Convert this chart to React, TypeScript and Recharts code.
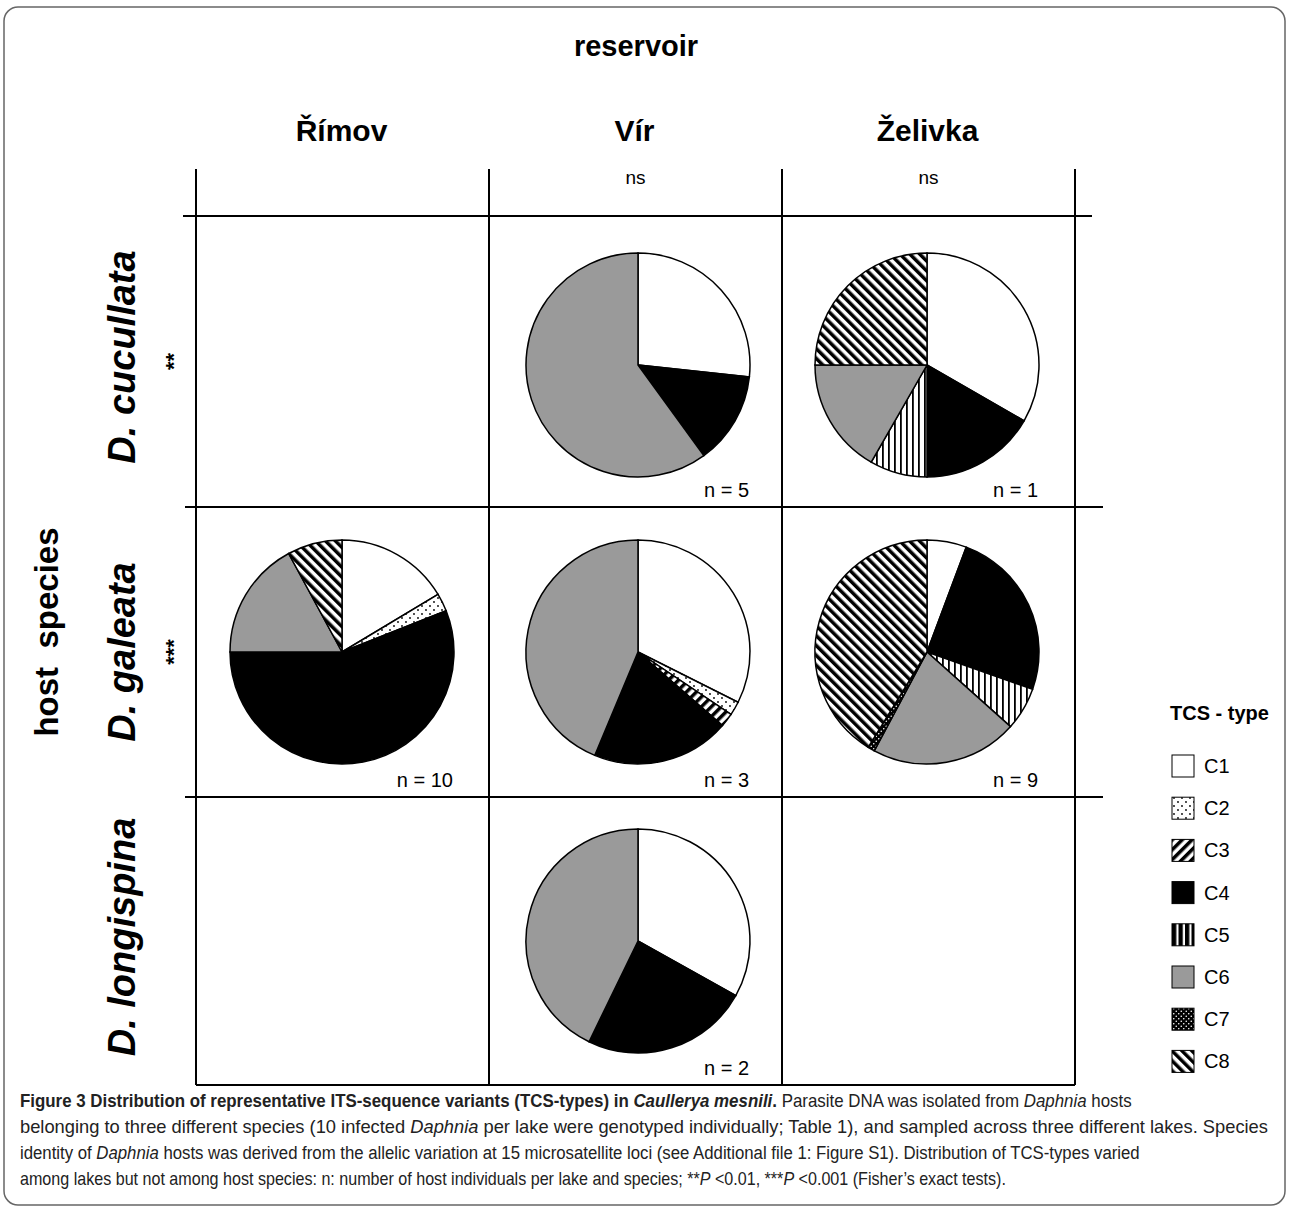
import React, { useLayoutEffect, useRef, useState } from 'react';
import { PieChart, Pie, Cell } from 'recharts';

// TCS-types and panel labels
const TYPES = ['C1', 'C2', 'C3', 'C4', 'C5', 'C6', 'C7', 'C8'];
const LAKES = ['Římov', 'Vír', 'Želivka'];
const LAKE_TESTS = ['', 'ns', 'ns'];
const HOSTS = ['D. cucullata', 'D. galeata', 'D. longispina'];
const HOST_TESTS = ['**', '***', ''];

// share of sequences (%) per TCS-type, in order C1..C8
const cucullataVir = [26.7, 0, 0, 13.3, 0, 60, 0, 0];
const cucullataZelivka = [33.3, 0, 0, 16.7, 8.3, 16.7, 0, 25];
const galeataRimov = [16.4, 2.6, 0, 56, 0, 17.1, 0, 7.9];
const galeataVir = [32.4, 2, 2, 19.9, 0, 43.7, 0, 0];
const galeataZelivka = [5.7, 0, 0, 24.7, 6.2, 21.2, 1, 41.2];
const longispinaVir = [33.1, 0, 0, 24.1, 0, 42.8, 0, 0];

// host row, lake column, number of host individuals
const PANELS = [
  { host: 0, lake: 1, n: 5, values: cucullataVir },
  { host: 0, lake: 2, n: 1, values: cucullataZelivka },
  { host: 1, lake: 0, n: 10, values: galeataRimov },
  { host: 1, lake: 1, n: 3, values: galeataVir },
  { host: 1, lake: 2, n: 9, values: galeataZelivka },
  { host: 2, lake: 1, n: 2, values: longispinaVir },
];

const FILLS = ['#ffffff', 'url(#tcs-c2)', 'url(#tcs-c3)', '#000000', 'url(#tcs-c5)', '#9a9a9a', 'url(#tcs-c7)', 'url(#tcs-c8)'];
const KEY_FILLS = ['#ffffff', 'url(#tcs-c2)', 'url(#tcs-c3)', '#000000', 'url(#key-c5)', '#9a9a9a', 'url(#tcs-c7)', 'url(#tcs-c8)'];

const W = 1290;
const H = 1210;
const COL_X = [196, 489, 782, 1075];
const ROW_Y = [216, 507, 797, 1085];
const PIE_CX = [342, 638, 927];
const PIE_CY = [365, 652, 941];
const R = 112;
const SANS = '"Liberation Sans", Arial, Helvetica, sans-serif';

function Patterns() {
  return (
    <defs>
      <pattern id="tcs-c2" width="8" height="8" patternUnits="userSpaceOnUse">
        <rect width="8" height="8" fill="#fff" />
        <circle cx="2" cy="2" r="0.9" fill="#000" />
        <circle cx="6" cy="6" r="0.9" fill="#000" />
      </pattern>
      <pattern id="tcs-c3" width="7" height="7" patternUnits="userSpaceOnUse" patternTransform="rotate(45)">
        <rect width="7" height="7" fill="#fff" />
        <rect width="3.5" height="7" fill="#000" />
      </pattern>
      <pattern id="tcs-c5" width="6" height="6" patternUnits="userSpaceOnUse">
        <rect width="6" height="6" fill="#fff" />
        <rect width="1.8" height="6" fill="#000" />
      </pattern>
      <pattern id="key-c5" width="6.5" height="6.5" patternUnits="userSpaceOnUse" x="1172">
        <rect width="6.5" height="6.5" fill="#fff" />
        <rect width="4.3" height="6.5" fill="#000" />
      </pattern>
      <pattern id="tcs-c7" width="5" height="5" patternUnits="userSpaceOnUse">
        <rect width="5" height="5" fill="#000" />
        <circle cx="1.25" cy="1.25" r="0.8" fill="#fff" />
        <circle cx="3.75" cy="3.75" r="0.8" fill="#fff" />
      </pattern>
      <pattern id="tcs-c8" width="7" height="7" patternUnits="userSpaceOnUse" patternTransform="rotate(-45)">
        <rect width="7" height="7" fill="#fff" />
        <rect width="3.5" height="7" fill="#000" />
      </pattern>
    </defs>
  );
}

function VLabel({ x, y, size, italic, children }: { x: number; y: number; size: number; italic?: boolean; children: React.ReactNode }) {
  return (
    <text
      x={x}
      y={y}
      transform={`rotate(-90 ${x} ${y})`}
      textAnchor="middle"
      dominantBaseline="central"
      fontSize={size}
      fontWeight="bold"
      fontStyle={italic ? 'italic' : 'normal'}
      xmlSpace="preserve"
      style={{ whiteSpace: 'pre' }}
    >
      {children}
    </text>
  );
}

// caption line squeezed horizontally to the width of the condensed original
function CaptionLine({ x, y, width, children }: { x: number; y: number; width: number; children: React.ReactNode }) {
  const ref = useRef<SVGTextElement>(null);
  const [sx, setSx] = useState(0.9);
  useLayoutEffect(() => {
    const el = ref.current;
    if (el) {
      const w = el.getComputedTextLength();
      if (w > 0) setSx(width / w);
    }
  }, [width]);
  return (
    <text ref={ref} x={0} y={0} transform={`translate(${x} ${y}) scale(${sx} 1)`} style={{ whiteSpace: 'pre' }}>
      {children}
    </text>
  );
}

export default function App() {
  return (
    <div style={{ position: 'absolute', left: 0, top: 0, width: W, height: H, background: '#fff' }}>
      <svg width={W} height={H} style={{ position: 'absolute', left: 0, top: 0 }} fontFamily={SANS}>
        <Patterns />
        <rect x={4} y={7} width={1281} height={1198} rx={14} fill="none" stroke="#666" strokeWidth={1.5} />

        {/* grid */}
        {COL_X.map((x) => (
          <line key={'v' + x} x1={x} y1={169} x2={x} y2={ROW_Y[3]} stroke="#000" strokeWidth={2} />
        ))}
        <line x1={183} y1={ROW_Y[0]} x2={1092} y2={ROW_Y[0]} stroke="#000" strokeWidth={2} />
        {ROW_Y.slice(1, 3).map((y) => (
          <line key={'h' + y} x1={185} y1={y} x2={1103} y2={y} stroke="#000" strokeWidth={2} />
        ))}
        <line x1={COL_X[0]} y1={ROW_Y[3]} x2={COL_X[3]} y2={ROW_Y[3]} stroke="#000" strokeWidth={2} />

        {/* headers */}
        <text x={636} y={56} textAnchor="middle" fontSize={29} fontWeight="bold">reservoir</text>
        {LAKES.map((lake, i) => (
          <g key={lake}>
            <text x={(COL_X[i] + COL_X[i + 1]) / 2 - 1} y={141} textAnchor="middle" fontSize={30} fontWeight="bold">{lake}</text>
            <text x={(COL_X[i] + COL_X[i + 1]) / 2} y={184} textAnchor="middle" fontSize={19}>{LAKE_TESTS[i]}</text>
          </g>
        ))}

        <VLabel x={46} y={632} size={33}>host  species</VLabel>
        {HOSTS.map((h, i) => (
          <g key={h}>
            <VLabel x={122} y={[357, 652, 937][i]} size={38} italic>{h}</VLabel>
            <VLabel x={173} y={(ROW_Y[i] + ROW_Y[i + 1]) / 2} size={22}>{HOST_TESTS[i]}</VLabel>
          </g>
        ))}

        {PANELS.map((p) => (
          <text key={'n' + p.host + p.lake} x={PIE_CX[p.lake] + 111} y={ROW_Y[p.host + 1] - 10} textAnchor="end" fontSize={20}>
            n = {p.n}
          </text>
        ))}

        {/* legend */}
        <text x={1170} y={720} fontSize={20} fontWeight="bold">TCS - type</text>
        {TYPES.map((t, i) => (
          <g key={t}>
            <rect x={1172} y={755 + i * 42.2} width={22} height={22} fill={KEY_FILLS[i]} stroke="#000" strokeWidth={1} />
            <text x={1204} y={773 + i * 42.2} fontSize={20}>{t}</text>
          </g>
        ))}

        {/* caption */}
        <g fontSize={18} fill="#222">
          <CaptionLine x={20} y={1107} width={1112}>
            <tspan fontWeight="bold">Figure 3 Distribution of representative ITS-sequence variants (TCS-types) in </tspan>
            <tspan fontWeight="bold" fontStyle="italic">Caullerya mesnili</tspan>
            <tspan fontWeight="bold">.</tspan>
            {' Parasite DNA was isolated from '}
            <tspan fontStyle="italic">Daphnia</tspan>
            {' hosts'}
          </CaptionLine>
          <CaptionLine x={20} y={1133} width={1248}>
            {'belonging to three different species (10 infected '}
            <tspan fontStyle="italic">Daphnia</tspan>
            {' per lake were genotyped individually; Table 1), and sampled across three different lakes. Species'}
          </CaptionLine>
          <CaptionLine x={20} y={1159} width={1120}>
            {'identity of '}
            <tspan fontStyle="italic">Daphnia</tspan>
            {' hosts was derived from the allelic variation at 15 microsatellite loci (see Additional file 1: Figure S1). Distribution of TCS-types varied'}
          </CaptionLine>
          <CaptionLine x={20} y={1185} width={986}>
            {'among lakes but not among host species: n: number of host individuals per lake and species; **'}
            <tspan fontStyle="italic">P</tspan>
            {' <0.01, ***'}
            <tspan fontStyle="italic">P</tspan>
            {' <0.001 (Fisher\u2019s exact tests).'}
          </CaptionLine>
        </g>
      </svg>

      <div style={{ position: 'absolute', left: 0, top: 0 }}>
        <PieChart width={W} height={H} margin={{ top: 0, right: 0, bottom: 0, left: 0 }}>
          {PANELS.map((p) => {
            const data = p.values
              .map((value, i) => ({ type: TYPES[i], value, idx: i }))
              .filter((d) => d.value > 0);
            return (
              <Pie
                key={'pie' + p.host + p.lake}
                data={data}
                dataKey="value"
                nameKey="type"
                cx={PIE_CX[p.lake]}
                cy={PIE_CY[p.host]}
                outerRadius={R}
                startAngle={90}
                endAngle={-270}
                stroke="#000"
                strokeWidth={1.5}
                label={false}
                labelLine={false}
                isAnimationActive={false}
              >
                {data.map((d) => (
                  <Cell key={d.type} fill={FILLS[d.idx]} />
                ))}
              </Pie>
            );
          })}
        </PieChart>
      </div>
    </div>
  );
}
